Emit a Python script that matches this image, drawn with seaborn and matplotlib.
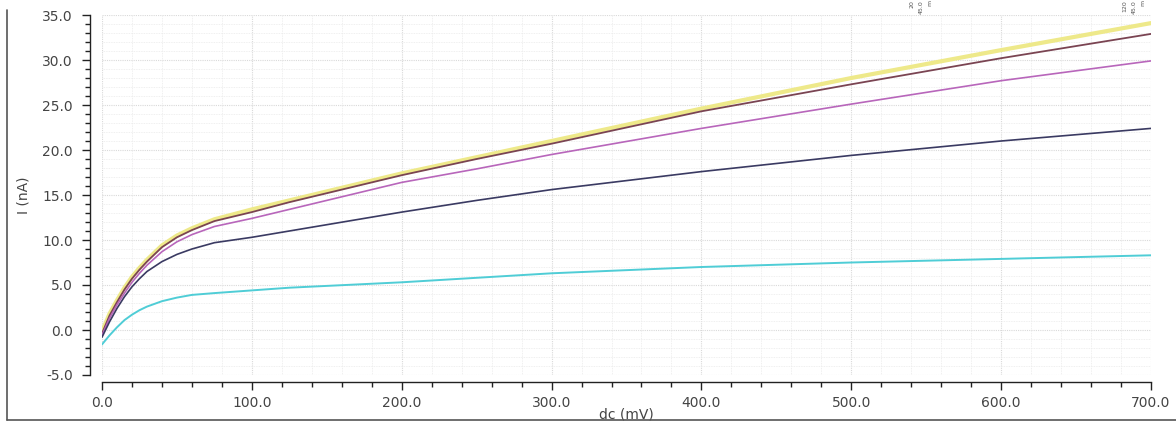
import numpy as np
import pandas as pd
import seaborn as sns
import matplotlib.pyplot as plt
from matplotlib.ticker import MultipleLocator, FormatStrFormatter
from matplotlib.lines import Line2D

# sweep points (mV) and current for each trace (nA)
dc = [0, 5, 10, 15, 20, 25, 30, 40, 50, 60, 75, 100, 125, 150, 200, 250, 300, 400, 500, 600, 700]
i_yellow = [-0.2, 1.8, 3.3, 4.7, 5.9, 6.9, 7.8, 9.4, 10.5, 11.3, 12.3, 13.4, 14.4, 15.4, 17.4, 19.2, 21.0, 24.6, 28.0, 31.1, 34.1]
i_brown = [-0.4, 1.6, 3.1, 4.5, 5.7, 6.7, 7.6, 9.2, 10.3, 11.1, 12.1, 13.1, 14.2, 15.2, 17.2, 19.0, 20.7, 24.3, 27.3, 30.2, 32.9]
i_magenta = [-0.6, 1.3, 2.8, 4.1, 5.3, 6.3, 7.2, 8.7, 9.8, 10.6, 11.5, 12.4, 13.4, 14.4, 16.4, 17.9, 19.5, 22.4, 25.1, 27.7, 29.9]
i_navy = [-0.8, 0.9, 2.4, 3.7, 4.8, 5.7, 6.5, 7.6, 8.4, 9.0, 9.7, 10.3, 11.0, 11.7, 13.1, 14.4, 15.6, 17.6, 19.4, 21.0, 22.4]
i_cyan = [-1.6, -0.6, 0.3, 1.1, 1.7, 2.2, 2.6, 3.2, 3.6, 3.9, 4.1, 4.4, 4.7, 4.9, 5.3, 5.8, 6.3, 7.0, 7.5, 7.9, 8.3]

traces = {
    'yellow': (i_yellow, '#eee98a', 3.0),
    'brown': (i_brown, '#7a4452', 1.3),
    'magenta': (i_magenta, '#b866bb', 1.2),
    'navy': (i_navy, '#3a3a62', 1.2),
    'cyan': (i_cyan, '#4fcdd6', 1.4),
}

sns.set_style('white')
plt.rcParams['font.family'] = ['DejaVu Sans']

fig = plt.figure(figsize=(11.76, 4.23), dpi=100)
ax = fig.add_axes([102 / 1176, 1 - 375 / 423, (1151 - 102) / 1176, (375 - 15) / 423])

for name, (vals, color, lw) in traces.items():
    df = pd.DataFrame({'dc': dc, 'i': vals})
    sns.lineplot(data=df, x='dc', y='i', color=color, linewidth=lw, ax=ax)

ax.set_xlim(0, 700)
ax.set_ylim(-5, 35)
ax.xaxis.set_major_locator(MultipleLocator(100))
ax.xaxis.set_minor_locator(MultipleLocator(20))
ax.yaxis.set_major_locator(MultipleLocator(5))
ax.yaxis.set_minor_locator(MultipleLocator(1))
ax.xaxis.set_major_formatter(FormatStrFormatter('%.1f'))
ax.yaxis.set_major_formatter(FormatStrFormatter('%.1f'))

ax.grid(which='major', color='#d9d9d9', linestyle=(0, (1, 1)), linewidth=0.8)
ax.grid(which='minor', color='#ebebeb', linestyle=(0, (1, 1)), linewidth=0.6)
ax.set_axisbelow(True)

sns.despine(ax=ax, offset={'left': 9, 'bottom': 5})
for s in ['left', 'bottom']:
    ax.spines[s].set_color('#222222')
    ax.spines[s].set_linewidth(1.0)

ax.tick_params(which='major', direction='out', length=6, width=1, color='#222222',
               labelsize=10, labelcolor='#444444', left=True, bottom=True)
ax.tick_params(axis='x', which='major', pad=4)
ax.tick_params(axis='y', which='major', pad=6)
ax.tick_params(which='minor', direction='out', length=3.5, width=1, color='#222222',
               left=True, bottom=True)

ax.set_xlabel('dc (mV)', fontsize=10, color='#444444', labelpad=-2)
ax.set_ylabel('I (nA)', fontsize=10, color='#444444', labelpad=8)

# little rotated legend fragments at the top edge
for xf, labels in [(912 / 1176, ['20', '45.0', 'm']), (1125 / 1176, ['120', '45.0', 'm'])]:
    for k, t in enumerate(labels):
        fig.text(xf + k * 0.0075, 1.0, t, rotation=90, fontsize=4.5,
                 color='#555555', ha='center', va='top')

# figure frame on left and bottom
fig.add_artist(Line2D([7 / 1176, 7 / 1176], [1 - 10 / 423, 1 - 420 / 423],
                      transform=fig.transFigure, color='#555555', linewidth=1.2))
fig.add_artist(Line2D([7 / 1176, 1.0], [1 - 420 / 423, 1 - 420 / 423],
                      transform=fig.transFigure, color='#555555', linewidth=1.2))

fig.savefig('out.png', dpi=100)
